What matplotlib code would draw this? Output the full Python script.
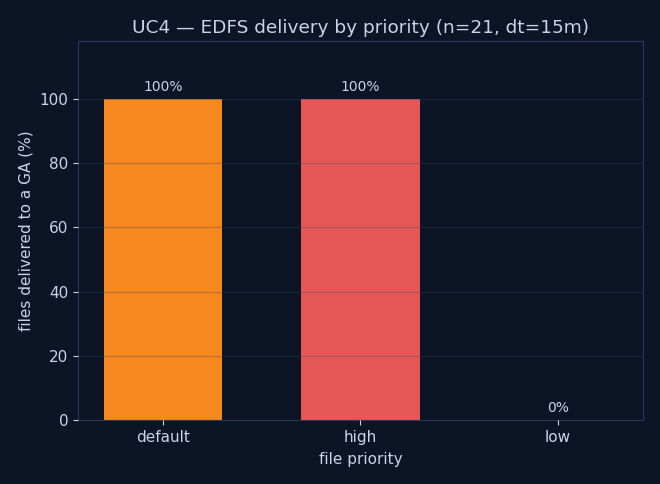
import matplotlib
matplotlib.use("Agg")
import matplotlib.pyplot as plt

# UC4 EDFS delivery share per priority class
priorities = ["default", "high", "low"]
delivered_pct = [100, 100, 0]
bar_colors = ["#f5891e", "#e55757", "#4c9be8"]

BG = "#0b1526"
FG = "#c9d4e6"
SPINE = "#2b3852"

fig, ax = plt.subplots(figsize=(6.6, 4.84), dpi=100)
fig.patch.set_facecolor(BG)
ax.set_facecolor(BG)

bars = ax.bar(priorities, delivered_pct, width=0.6, color=bar_colors, zorder=1)
ax.set_axisbelow(False)
ax.grid(axis="y", color="#3a4660", alpha=0.35, linewidth=0.8, zorder=2)

for b, v in zip(bars, delivered_pct):
    ax.text(b.get_x() + b.get_width() / 2, v + 1.5, f"{v:.0f}%",
            ha="center", va="bottom", color=FG, fontsize=10)

ax.set_ylim(0, 118)
ax.set_title("UC4 — EDFS delivery by priority (n=21, dt=15m)", color=FG, fontsize=13.3)
ax.set_xlabel("file priority", color=FG, fontsize=11, labelpad=5)
ax.set_ylabel("files delivered to a GA (%)", color=FG, fontsize=11)
ax.tick_params(colors=FG, labelsize=11)
for s in ax.spines.values():
    s.set_color(SPINE)

fig.subplots_adjust(left=0.118, right=0.974, top=0.915, bottom=0.132)
fig.savefig("out.png", dpi=100, facecolor=BG)
